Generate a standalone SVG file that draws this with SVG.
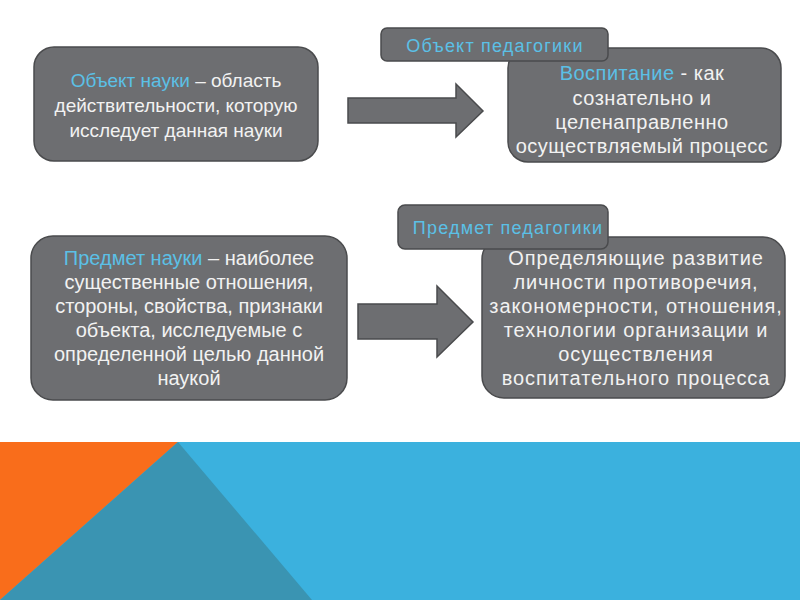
<svg xmlns="http://www.w3.org/2000/svg" width="800" height="600" viewBox="0 0 800 600">
<style>
.box{fill:#6d6e71;stroke:#4a4b4d;stroke-width:1.5}
.arrow{fill:#6d6e71;stroke:#4a4b4d;stroke-width:1.5;stroke-linejoin:miter}
.t{font-family:"Liberation Sans",Arial,sans-serif;fill:#f2f2f2;text-anchor:middle}
.s1{font-size:19px}
.s2{font-size:20px;letter-spacing:0.5px}
.s3{font-size:20px}
.s4{font-size:20px;letter-spacing:0.9px}
.lbl{font-family:"Liberation Sans",Arial,sans-serif;font-size:18px;letter-spacing:1.2px;fill:#5bc0e6;text-anchor:middle}
.hl{fill:#5bc0e6}
</style>
<rect width="800" height="600" fill="#ffffff"/>
<g id="background">
<rect x="0" y="442" width="800" height="158" fill="#3bb1de"/>
<polygon points="0,442 178,442 0,600" fill="#f96d1b"/>
<polygon points="178,442 312,600 0,600" fill="#3a94b2"/>
</g>
<g id="connectors">
<polygon class="arrow" points="348,98 456,98 456,84 483,111 456,137 456,123 348,123"/>
<polygon class="arrow" points="358,304 437,304 437,286 473,322 437,357 437,339 358,339"/>
</g>
<g id="node-object-science">
<rect class="box" x="34" y="47" width="284" height="114" rx="20"/>
<text class="t s1" x="176" y="87"><tspan class="hl">Объект науки</tspan> – область</text>
<text class="t s1" x="176" y="112">действительности, которую</text>
<text class="t s1" x="176" y="137">исследует данная науки</text>
</g>
<g id="node-upbringing">
<rect class="box" x="508" y="48" width="273" height="114" rx="20"/>
<text class="t s2" x="642" y="80"><tspan class="hl">Воспитание</tspan> - как</text>
<text class="t s2" x="642" y="104.5">сознательно и</text>
<text class="t s2" x="642" y="129">целенаправленно</text>
<text class="t s2" x="642" y="153">осуществляемый процесс</text>
</g>
<g id="label-object-pedagogy">
<rect class="box" x="381" y="28" width="227" height="33" rx="6"/>
<text class="lbl" x="495" y="52">Объект педагогики</text>
</g>
<g id="node-subject-science">
<rect class="box" x="31" y="236" width="316" height="164" rx="22"/>
<text class="t s3" x="189" y="265"><tspan class="hl">Предмет науки</tspan> – наиболее</text>
<text class="t s3" x="189" y="289">существенные отношения,</text>
<text class="t s3" x="189" y="313">стороны, свойства, признаки</text>
<text class="t s3" x="189" y="337">объекта, исследуемые с</text>
<text class="t s3" x="189" y="361">определенной целью данной</text>
<text class="t s3" x="189" y="385">наукой</text>
</g>
<g id="node-subject-pedagogy-content">
<rect class="box" x="482" y="237" width="303" height="161" rx="22"/>
<text class="t s4" x="636" y="265">Определяющие развитие</text>
<text class="t s4" x="636" y="289">личности противоречия,</text>
<text class="t s4" x="636" y="313">закономерности, отношения,</text>
<text class="t s4" x="636" y="337">технологии организации и</text>
<text class="t s4" x="636" y="361">осуществления</text>
<text class="t s4" x="636" y="385">воспитательного процесса</text>
</g>
<g id="label-subject-pedagogy">
<rect class="box" x="398" y="205" width="210" height="44" rx="7"/>
<text class="lbl" x="508" y="234">Предмет педагогики</text>
</g>
</svg>
